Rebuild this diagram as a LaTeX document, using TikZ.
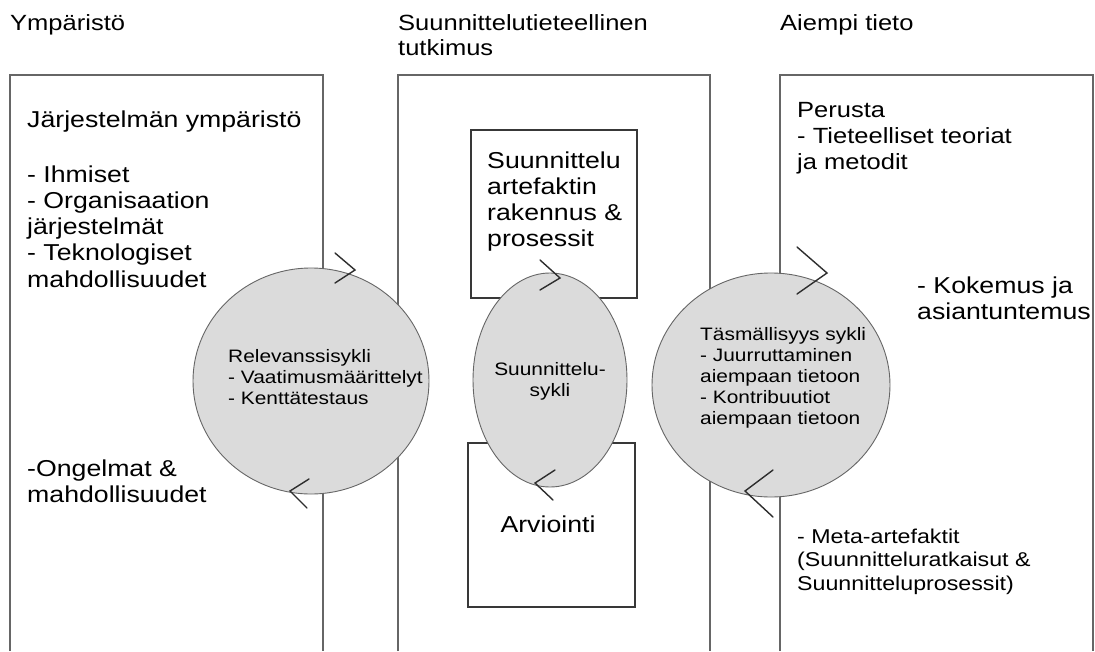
\documentclass[tikz,border=0pt]{standalone}
\usepackage{fontspec}
\setmainfont{Liberation Sans}[FakeStretch=1.16]
\usetikzlibrary{shapes.geometric}

\begin{document}
\begin{tikzpicture}[x=1pt,y=-1pt,
  frame/.style={draw=black!60, line width=1.4pt},
  stagebox/.style={rectangle, draw=black!78, line width=1.3pt, inner sep=0pt},
  cyc/.style={ellipse, draw=black!60, line width=0.9pt, fill=black!14, inner sep=0pt},
  chevline/.style={draw=black!82, line width=1.4pt, line cap=round, line join=miter},
  % multi-line texts are placed by the baseline of their last line
  txt/.style={anchor=base west, align=left, inner sep=0pt, text=black},
  head/.style={txt, font=\fontsize{22}{25}\selectfont},
  body/.style={txt, font=\fontsize{23}{26.3}\selectfont},
  note/.style={txt, font=\fontsize{20}{23.5}\selectfont},
  small/.style={txt, font=\fontsize{18}{21}\selectfont},
]
\useasboundingbox[fill=white] (0,0) rectangle (1095,651);

% column headings
\node[head] (hEnv) at (10,30) {Ympäristö};
\node[head] (hDsr) at (398,55) {Suunnittelutieteellinen\\tutkimus};
\node[head] (hKb)  at (780,30) {Aiempi tieto};

% three open columns running off the bottom edge
\draw[frame] (10,651) |- (323,75) -- (323,651);
\draw[frame] (398,651) |- (710,75) -- (710,651);
\draw[frame] (780,651) |- (1093,75) -- (1093,651);

% build and evaluate boxes in the middle column
\node[stagebox, minimum width=166pt, minimum height=168pt] (build) at (554,214) {};
\node[stagebox, minimum width=167pt, minimum height=164pt] (eval) at (551.5,525) {};

% the three cycles
\node[cyc, minimum width=236pt, minimum height=226pt] (rel) at (311,381) {};
\node[cyc, minimum width=154pt, minimum height=214pt] (des) at (550,380) {};
\node[cyc, minimum width=238pt, minimum height=224pt] (rig) at (771,385) {};

% environment column
\node[body] (envT) at (27,127) {Järjestelmän ympäristö};
\node[body] (envL) at (27,287.2) {- Ihmiset\\- Organisaation\\järjestelmät\\- Teknologiset\\mahdollisuudet};
\node[body] (envP) at (27,502.3) {-Ongelmat \&\\mahdollisuudet};

% design science column
\node[body] (buildT) at (487,246.9) {Suunnittelu\\artefaktin\\rakennus \&\\prosessit};
\node[body, anchor=base] (evalT) at (548,532) {Arviointi};

% knowledge base column
\node[body, font=\fontsize{22}{26}\selectfont] (kbT) at (797,169) {Perusta\\- Tieteelliset teoriat\\ja metodit};
\node[body] (kbE) at (917,319.3) {- Kokemus ja\\asiantuntemus};
\node[note] (kbM) at (797,590) {- Meta-artefaktit\\(Suunnitteluratkaisut \&\\Suunnitteluprosessit)};

% cycle labels
\node[small] (relT) at (228,404) {Relevanssisykli\\ - Vaatimusmäärittelyt\\ - Kenttätestaus};
\node[small, align=center, anchor=base] (desT) at (550,396) {Suunnittelu-\\sykli};
\node[small] (rigT) at (700,424) {Täsmällisyys sykli\\- Juurruttaminen\\aiempaan tietoon\\- Kontribuutiot\\aiempaan tietoon};

% direction marks on the cycles
\draw[chevline] (335,253) -- (355,270) -- (335,283);
\draw[chevline] (309,479) -- (290,491) -- (307,508);
\draw[chevline] (540,260) -- (560,278) -- (540,290);
\draw[chevline] (555,470) -- (535,483) -- (553,500);
\draw[chevline] (797,247) -- (827,273) -- (797,294);
\draw[chevline] (773,470) -- (745,491) -- (773,517);
\end{tikzpicture}
\end{document}
